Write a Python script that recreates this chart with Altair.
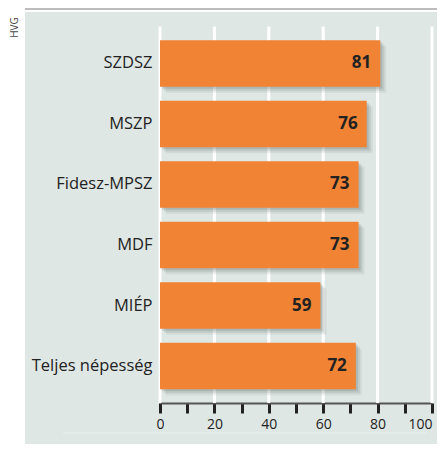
import altair as alt
import pandas as pd

categories = ["SZDSZ", "MSZP", "Fidesz-MPSZ", "MDF", "MIÉP", "Teljes népesség"]
values = [81, 76, 73, 73, 59, 72]
grid_values = [0, 20, 40, 60, 80, 100]
tick_values = [0, 10, 20, 30, 40, 50, 60, 70, 80, 90, 100]

df = pd.DataFrame({"cat": categories, "val": values})
grid_df = pd.DataFrame({"val": grid_values})

W = 272
H = 376.5
PL, PT, PR, PB = 152, 18.5, 5, 41
FONT = "Open Sans"
ORANGE = "#f08334"
PANEL = "#dfe7e4"

yenc = alt.Y("cat:N", sort=categories,
             scale=alt.Scale(paddingInner=0.23, paddingOuter=0.226),
             axis=alt.Axis(title=None, domain=False, ticks=False, labelPadding=8,
                           labelFontSize=16.5, labelColor="#222", labelFont=FONT))
xaxis = alt.Axis(values=tick_values, grid=False,
                 labelExpr="datum.value % 20 == 0 ? datum.label : ''",
                 labelAlign={"condition": {"test": "datum.value == 100", "value": "right"},
                             "value": "center"},
                 tickSize=10, tickWidth=3, tickColor="#222",
                 domainColor="#555", domainWidth=2,
                 labelFontSize=14, labelColor="#222", labelFont=FONT,
                 labelPadding=4, labelFlush=False)
xenc = alt.X("val:Q", scale=alt.Scale(domain=[0, 100], nice=False), title=None, axis=xaxis)

one = alt.Data(values=[{}])

white_strip = alt.Chart(one).mark_rect(color="white").encode(
    x=alt.value(-PL), x2=alt.value(-PL + 17), y=alt.value(-PT), y2=alt.value(H + PB))
header = alt.Chart(one).mark_rect(color="#bdbdbd").encode(
    x=alt.value(-PL + 17), x2=alt.value(W + PR), y=alt.value(-PT), y2=alt.value(-PT + 2))
header_line = alt.Chart(one).mark_rect(color="white").encode(
    x=alt.value(-PL + 17), x2=alt.value(W + PR), y=alt.value(-PT + 2), y2=alt.value(-PT + 4))
hvg = alt.Chart(one).mark_text(text="HVG", angle=270, fontSize=10, color="#444",
                               font=FONT, align="center", baseline="middle").encode(
    x=alt.value(-PL + 7), y=alt.value(1))
bottom_line = alt.Chart(one).mark_rule(color="#e9efed", strokeWidth=1).encode(
    x=alt.value(-PL + 55), x2=alt.value(W - 5), y=alt.value(H + 30))

grid = alt.Chart(grid_df).mark_rule(color="white", strokeWidth=3).encode(
    x=xenc, y=alt.value(0), y2=alt.value(H))

shadows = []
for off, op in [(2, 0.2), (4, 0.16), (6, 0.1)]:
    shadows.append(alt.Chart(df).mark_bar(color="#5f706c", opacity=op,
                                          xOffset=off, yOffset=off).encode(x=xenc, y=yenc))

bars = alt.Chart(df).mark_bar(color=ORANGE).encode(x=xenc, y=yenc)

labels = alt.Chart(df).mark_text(align="right", dx=-9, fontWeight="bold", fontSize=17,
                                 color="#222", font=FONT, baseline="middle").encode(
    x=xenc, y=yenc, text="val:Q")

chart = alt.layer(grid, *shadows, bars, labels, white_strip, header, header_line, hvg, bottom_line).properties(
    width=W, height=H,
    autosize=alt.AutoSizeParams(type="none"),
    padding={"left": PL, "top": PT, "right": PR, "bottom": PB},
    background=PANEL,
).configure_view(stroke=None)

chart.save("out.html", embed_options={"renderer": "svg", "actions": False})
